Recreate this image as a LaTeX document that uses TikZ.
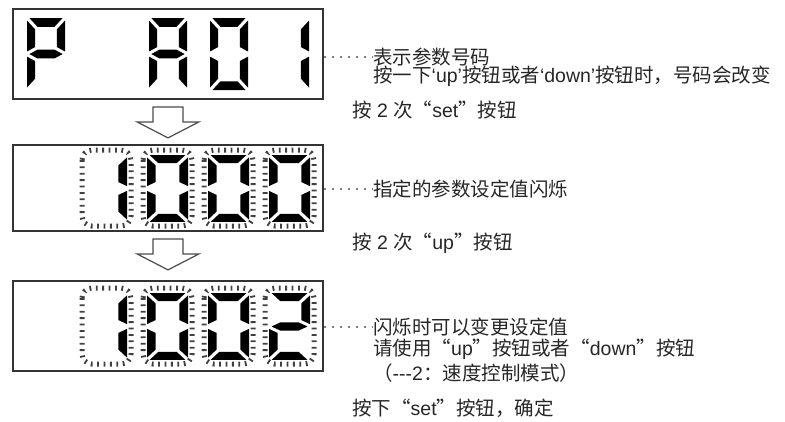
\documentclass[tikz,border=0pt]{standalone}
\usepackage{fontspec}
\setmainfont{Liberation Sans}
\newfontfamily\zhfont{Noto Sans CJK SC}
\newcommand{\zh}[1]{{\zhfont #1}}
\usepackage{tikz}
\usetikzlibrary{positioning}

% seven-segment pieces, unit cell 40 x 70 (y runs down)
\newcommand{\segA}{\fill[seg] (2.5,0) -- (37.5,0) -- (29,8.5) -- (11,8.5) -- cycle;}
\newcommand{\segB}{\fill[seg] (40,2.5) -- (40,32.5) -- (31.5,28.25) -- (31.5,11) -- cycle;}
\newcommand{\segC}{\fill[seg] (40,37.5) -- (40,67.5) -- (31.5,59) -- (31.5,41.75) -- cycle;}
\newcommand{\segD}{\fill[seg] (2.5,70) -- (37.5,70) -- (29,61.5) -- (11,61.5) -- cycle;}
\newcommand{\segE}{\fill[seg] (0,37.5) -- (0,67.5) -- (8.5,59) -- (8.5,41.75) -- cycle;}
\newcommand{\segF}{\fill[seg] (0,2.5) -- (0,32.5) -- (8.5,28.25) -- (8.5,11) -- cycle;}
\newcommand{\segG}{\fill[seg] (2.5,35) -- (11,30.75) -- (29,30.75) -- (37.5,35) -- (29,39.25) -- (11,39.25) -- cycle;}
\newcommand{\lcddigit}[5]{%
  \begin{scope}[shift={(#1,#2)}, xscale=#3, yscale=#4]
    \foreach \s in {#5} {\csname seg\s\endcsname}
  \end{scope}}

\begin{document}
\begin{tikzpicture}[
    x=1pt, y=-1pt,
    disp/.style={draw=black!80, line width=1.8pt, minimum width=310pt, inner sep=0pt},
    seg/.style={fill=black},
    blinkbox/.style={draw=black!75, line width=5pt, dash pattern=on 1.8pt off 4.6pt, rounded corners=10pt},
    downarr/.style={draw=black!70, line width=1.2pt, fill=white, line join=miter},
    note/.style={font=\fontsize{19.5}{21}\selectfont, text=black!85, inner sep=0pt, text height=15pt, text depth=0pt, anchor=west},
    leader/.style={draw=black!50, line width=2pt, dash pattern=on 2pt off 6pt}
]
\useasboundingbox (0,0) rectangle (785,421);

% Displays
\node[disp, minimum height=90pt] (d1) at (168,54) {};
\node[disp, minimum height=86pt] (d2) at (168,188) {};
\node[disp, minimum height=90pt] (d3) at (168,326) {};

% Hollow arrows between displays
\foreach \a in {d1,d2}
  \draw[downarr] (\a.south) ++(-15,7) -- ++(30,0) -- ++(0,15) -- ++(16,0) -- ++(-31,16) -- ++(-31,-16) -- ++(16,0) -- cycle;

% Display 1: P  A01
\lcddigit{27}{18}{0.95}{1.03}{A,B,E,F,G}
\lcddigit{149}{18}{0.95}{1.03}{A,B,C,E,F,G}
\lcddigit{210}{18}{0.95}{1.03}{A,B,C,D,E,F}
\lcddigit{271}{18}{0.95}{1.03}{B,C}

% Blinking frames, displays 2 and 3
\foreach \x in {86,147,208,269} {
  \draw[blinkbox] (\x-4,150) rectangle (\x+45,226);
  \draw[blinkbox] (\x-4,288) rectangle (\x+45,364);
}

% Display 2: 1000
\lcddigit{86}{155}{1.025}{0.957}{B,C}
\foreach \x in {147,208,269} {\lcddigit{\x}{155}{1.025}{0.957}{A,B,C,D,E,F}}

% Display 3: 1002
\lcddigit{86}{293}{1.025}{0.957}{B,C}
\foreach \x in {147,208} {\lcddigit{\x}{293}{1.025}{0.957}{A,B,C,D,E,F}}
\lcddigit{269}{293}{1.025}{0.957}{A,B,G,E,D}

% Notes
\node[note] (n1) at (373,57) {\zh{表示参数号码}};
\node[note] (n1b) at ([yshift=-18pt]n1.west) {\zh{按一下}‘up’\zh{按钮或者}‘down’\zh{按钮时，号码会改变}};
\node[note] (s1) at (352,110) {\zh{按} 2 \zh{次“}set\zh{”按钮}};
\node[note] (n2) at (373,189) {\zh{指定的参数设定值闪烁}};
\node[note] (s2) at (352,242) {\zh{按} 2 \zh{次“}up\zh{”按钮}};
\node[note] (n3) at (373,327) {\zh{闪烁时可以变更设定值}};
\node[note] (n3b) at ([yshift=-21pt]n3.west) {\zh{请使用“}up\zh{”按钮或者“}down\zh{”按钮}};
\node[note] (n3c) at ([yshift=-25pt]n3b.west) {\zh{（}\mbox{-}\mbox{-}\mbox{-}2\zh{：速度控制模式）}};
\node[note] (s3) at (352,408) {\zh{按下“}set\zh{”按钮，确定}};

% Dotted leaders
\draw[leader] (d1.east |- n1.west) -- (n1.west);
\draw[leader] (d2.east |- n2.west) -- (n2.west);
\draw[leader] (d3.east |- n3.west) -- (n3.west);

\end{tikzpicture}
\end{document}
